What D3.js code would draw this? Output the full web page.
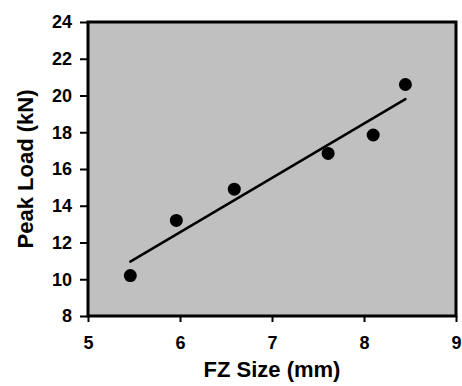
<!DOCTYPE html>
<html>
<head>
<meta charset="utf-8">
<script src="https://cdn.jsdelivr.net/npm/d3@7"></script>
<style>
  body { margin: 0; background: #fff; }
  text { font-family: 'Liberation Sans', Arial, sans-serif; font-weight: bold; fill: #000; }
</style>
</head>
<body>
<div id="chart"></div>
<script>
// FZ size (mm) vs peak load (kN)
const fzSize = [5.46, 5.96, 6.59, 7.61, 8.10, 8.45]
const peakLoad = [10.2, 13.2, 14.9, 16.85, 17.85, 20.6]
const xTicks = [5, 6, 7, 8, 9]
const yTicks = [8, 10, 12, 14, 16, 18, 20, 22, 24]

const width = 462
const height = 386
const margin = { top: 22, right: 6, bottom: 70, left: 88 }
const w = width - margin.left - margin.right
const h = height - margin.top - margin.bottom

const svg = d3.select('#chart')
    .append('svg')
    .attr('width', width)
    .attr('height', height)

const g = svg.append('g')
    .attr('transform', `translate(${margin.left},${margin.top})`)

const x = d3.scaleLinear().domain([5, 9]).range([0, w])
const y = d3.scaleLinear().domain([8, 24]).range([h, 0])

// plot area
g.append('rect')
    .attr('width', w)
    .attr('height', h)
    .attr('fill', '#c0c0c0')

// axes
const xAxis = g.append('g')
    .attr('transform', `translate(0,${h})`)
    .call(d3.axisBottom(x).tickValues(xTicks).tickFormat(d3.format('d')).tickSize(6).tickPadding(14))
xAxis.select('.domain').remove()
xAxis.selectAll('line').attr('stroke', '#000').attr('stroke-width', 2)
xAxis.selectAll('text').style('font-size', '18px')

const yAxis = g.append('g')
    .call(d3.axisLeft(y).tickValues(yTicks).tickSize(8).tickPadding(8))
yAxis.select('.domain').remove()
yAxis.selectAll('line').attr('stroke', '#000').attr('stroke-width', 2)
yAxis.selectAll('text').style('font-size', '18px')

// border
g.append('rect')
    .attr('width', w)
    .attr('height', h)
    .attr('fill', 'none')
    .attr('stroke', '#000')
    .attr('stroke-width', 3)

// linear trend line (least squares)
const data = fzSize.map((d, i) => ({ x: d, y: peakLoad[i] }))
const mx = d3.mean(data, d => d.x)
const my = d3.mean(data, d => d.y)
const slope = d3.sum(data, d => (d.x - mx) * (d.y - my)) / d3.sum(data, d => (d.x - mx) ** 2)
const icpt = my - slope * mx
const xr = d3.extent(fzSize)

g.append('line')
    .attr('x1', x(xr[0]))
    .attr('y1', y(icpt + slope * xr[0]))
    .attr('x2', x(xr[1]))
    .attr('y2', y(icpt + slope * xr[1]))
    .attr('stroke', '#000')
    .attr('stroke-width', 2.5)
    .attr('stroke-linecap', 'round')

g.selectAll('circle')
    .data(data)
    .enter()
    .append('circle')
    .attr('cx', d => x(d.x))
    .attr('cy', d => y(d.y))
    .attr('r', 6.5)
    .attr('fill', '#000')

// axis titles
svg.append('text')
    .attr('x', margin.left + w / 2)
    .attr('y', 377)
    .attr('text-anchor', 'middle')
    .style('font-size', '22px')
    .text('FZ Size (mm)')

svg.append('text')
    .attr('transform', `translate(33,${margin.top + h / 2}) rotate(-90)`)
    .attr('text-anchor', 'middle')
    .style('font-size', '22px')
    .text('Peak Load (kN)')
</script>
</body>
</html>
